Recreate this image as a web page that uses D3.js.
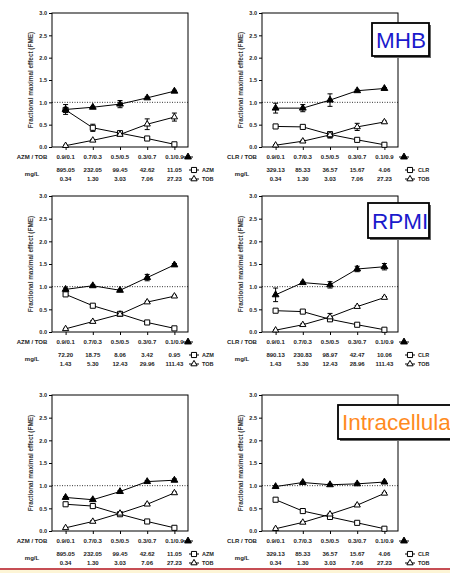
<!DOCTYPE html>
<html>
<head>
<meta charset="utf-8">
<script src="https://cdn.jsdelivr.net/npm/d3@7"></script>
<style>
  body { margin: 0; background: #fff; }
  svg { display: block; font-family: "Liberation Sans", Arial, sans-serif; }
</style>
</head>
<body>
<script>
// ratio labels shared by all six panels
const ratios = ["0.9/0.1", "0.7/0.3", "0.5/0.5", "0.3/0.7", "0.1/0.9"];
const yTicks = [0, 0.5, 1, 1.5, 2, 2.5, 3];

// concentrations (mg/L)
const azmMhbConc = ["895.05", "232.05", "99.45", "42.62", "11.05"];
const clrMhbConc = ["329.13", "85.33", "36.57", "15.67", "4.06"];
const tobMhbConc = ["0.34", "1.30", "3.03", "7.06", "27.23"];
const azmRpmiConc = ["72.20", "18.75", "8.06", "3.42", "0.95"];
const clrRpmiConc = ["890.13", "230.83", "98.97", "42.47", "10.06"];
const tobRpmiConc = ["1.43", "5.30", "12.43", "29.96", "111.43"];
const tobRpmiConc2 = ["1.43", "5.30", "12.43", "28.96", "111.43"];

// FME values, with error half-widths
const azmMhbCombo = [0.84, 0.89, 0.96, 1.10, 1.25];
const azmMhbComboErr = [0.11, 0.02, 0.08, 0.02, 0.02];
const azmMhbAlone = [0.83, 0.43, 0.31, 0.19, 0.06];
const azmMhbAloneErr = [0.03, 0.08, 0.02, 0.01, 0.01];
const azmMhbTob = [0.03, 0.15, 0.28, 0.51, 0.67];
const azmMhbTobErr = [0.01, 0.02, 0.03, 0.12, 0.09];

const clrMhbCombo = [0.87, 0.87, 1.05, 1.26, 1.31];
const clrMhbComboErr = [0.11, 0.08, 0.14, 0.02, 0.02];
const clrMhbAlone = [0.46, 0.45, 0.28, 0.16, 0.05];
const clrMhbAloneErr = [0.02, 0.02, 0.06, 0.01, 0.01];
const clrMhbTob = [0.04, 0.13, 0.27, 0.45, 0.56];
const clrMhbTobErr = [0.01, 0.02, 0.07, 0.08, 0.02];

const azmRpmiCombo = [0.94, 1.02, 0.92, 1.20, 1.48];
const azmRpmiComboErr = [0.03, 0.02, 0.02, 0.07, 0.03];
const azmRpmiAlone = [0.83, 0.58, 0.40, 0.21, 0.08];
const azmRpmiAloneErr = [0.02, 0.02, 0.02, 0.02, 0.02];
const azmRpmiTob = [0.07, 0.23, 0.39, 0.66, 0.79];
const azmRpmiTobErr = [0.01, 0.02, 0.02, 0.02, 0.02];

const clrRpmiCombo = [0.82, 1.09, 1.04, 1.39, 1.44];
const clrRpmiComboErr = [0.15, 0.02, 0.07, 0.06, 0.07];
const clrRpmiAlone = [0.47, 0.45, 0.28, 0.16, 0.05];
const clrRpmiAloneErr = [0.02, 0.02, 0.02, 0.02, 0.02];
const clrRpmiTob = [0.04, 0.16, 0.33, 0.56, 0.76];
const clrRpmiTobErr = [0.01, 0.02, 0.08, 0.02, 0.02];

const azmIcCombo = [0.74, 0.69, 0.87, 1.09, 1.12];
const azmIcComboErr = [0.02, 0.02, 0.02, 0.02, 0.03];
const azmIcAlone = [0.59, 0.55, 0.37, 0.21, 0.07];
const azmIcAloneErr = [0.02, 0.02, 0.02, 0.02, 0.02];
const azmIcTob = [0.07, 0.21, 0.39, 0.59, 0.84];
const azmIcTobErr = [0.01, 0.02, 0.02, 0.02, 0.02];

const clrIcCombo = [0.98, 1.07, 1.02, 1.04, 1.08];
const clrIcComboErr = [0.02, 0.02, 0.02, 0.02, 0.02];
const clrIcAlone = [0.69, 0.44, 0.31, 0.18, 0.05];
const clrIcAloneErr = [0.02, 0.02, 0.02, 0.02, 0.02];
const clrIcTob = [0.05, 0.19, 0.37, 0.57, 0.83];
const clrIcTobErr = [0.01, 0.02, 0.02, 0.02, 0.02];

// panel layout
const width = 450, height = 573;
const cols = [{ x0: 52, x1: 188, lab: 32, leg: -2 }, { x0: 262, x1: 398, lab: 242, leg: 4 }];
const rows = [{ y0: 13, y1: 147 }, { y0: 196, y1: 332 }, { y0: 395, y1: 531 }];

const panels = [
  { r: 0, c: 0, drug: "AZM", combo: azmMhbCombo, comboErr: azmMhbComboErr, alone: azmMhbAlone, aloneErr: azmMhbAloneErr, tob: azmMhbTob, tobErr: azmMhbTobErr, concA: azmMhbConc, concB: tobMhbConc },
  { r: 0, c: 1, drug: "CLR", combo: clrMhbCombo, comboErr: clrMhbComboErr, alone: clrMhbAlone, aloneErr: clrMhbAloneErr, tob: clrMhbTob, tobErr: clrMhbTobErr, concA: clrMhbConc, concB: tobMhbConc },
  { r: 1, c: 0, drug: "AZM", combo: azmRpmiCombo, comboErr: azmRpmiComboErr, alone: azmRpmiAlone, aloneErr: azmRpmiAloneErr, tob: azmRpmiTob, tobErr: azmRpmiTobErr, concA: azmRpmiConc, concB: tobRpmiConc },
  { r: 1, c: 1, drug: "CLR", combo: clrRpmiCombo, comboErr: clrRpmiComboErr, alone: clrRpmiAlone, aloneErr: clrRpmiAloneErr, tob: clrRpmiTob, tobErr: clrRpmiTobErr, concA: clrRpmiConc, concB: tobRpmiConc2 },
  { r: 2, c: 0, drug: "AZM", combo: azmIcCombo, comboErr: azmIcComboErr, alone: azmIcAlone, aloneErr: azmIcAloneErr, tob: azmIcTob, tobErr: azmIcTobErr, concA: azmMhbConc, concB: tobMhbConc },
  { r: 2, c: 1, drug: "CLR", combo: clrIcCombo, comboErr: clrIcComboErr, alone: clrIcAlone, aloneErr: clrIcAloneErr, tob: clrIcTob, tobErr: clrIcTobErr, concA: clrMhbConc, concB: tobMhbConc }
];

const svg = d3.select("body").append("svg")
  .attr("width", width)
  .attr("height", height);

svg.append("rect").attr("width", width).attr("height", height).attr("fill", "#fff");

const triFilled = d3.symbol().type(d3.symbolTriangle).size(20);
const triOpen = d3.symbol().type(d3.symbolTriangle).size(17);
const square = d3.symbol().type(d3.symbolSquare).size(26);

function drawPanel(p) {
  const col = cols[p.c], row = rows[p.r];
  const x = d3.scalePoint().domain(ratios).range([col.x0, col.x1]).padding(0.5);
  const y = d3.scaleLinear().domain([0, 3]).range([row.y1, row.y0]);
  const g = svg.append("g");

  // frame
  g.append("rect")
    .attr("x", col.x0).attr("y", row.y0)
    .attr("width", col.x1 - col.x0).attr("height", row.y1 - row.y0)
    .attr("fill", "none").attr("stroke", "#000").attr("stroke-width", 1);

  // y axis
  const yAxis = g.append("g")
    .attr("transform", `translate(${col.x0},0)`)
    .call(d3.axisLeft(y).tickValues(yTicks).tickFormat(d3.format(".1f")).tickSize(3).tickPadding(2));
  yAxis.select(".domain").remove();
  yAxis.selectAll("text").attr("font-size", 5.5).attr("font-weight", "bold").attr("fill", "#222")
    .attr("font-family", "Liberation Sans, Arial, sans-serif");

  // x axis ticks only
  const xAxis = g.append("g")
    .attr("transform", `translate(0,${row.y1})`)
    .call(d3.axisBottom(x).tickSize(3).tickFormat(""));
  xAxis.select(".domain").remove();

  // y title
  g.append("text")
    .attr("transform", `translate(${col.x0 - 19},${(row.y0 + row.y1) / 2}) rotate(-90)`)
    .attr("text-anchor", "middle")
    .attr("font-size", 6.4).attr("font-weight", "bold").attr("fill", "#333")
    .text("Fractional maximal effect (FME)");

  // reference line at 1.0
  g.append("line")
    .attr("x1", col.x0).attr("x2", col.x1)
    .attr("y1", y(1)).attr("y2", y(1))
    .attr("stroke", "#000").attr("stroke-width", 0.8).attr("stroke-dasharray", "1,1.5");

  const series = [
    { v: p.alone, e: p.aloneErr, sym: square, fill: "#fff" },
    { v: p.tob, e: p.tobErr, sym: triOpen, fill: "#fff" },
    { v: p.combo, e: p.comboErr, sym: triFilled, fill: "#000" }
  ];
  const line = d3.line().x((d, i) => x(ratios[i])).y(d => y(d));

  series.forEach(s => {
    g.append("path").datum(s.v).attr("d", line)
      .attr("fill", "none").attr("stroke", "#000").attr("stroke-width", 1);
  });
  series.forEach(s => {
    s.v.forEach((v, i) => {
      const cx = x(ratios[i]), hi = y(v + s.e[i]), lo = y(v - s.e[i]);
      g.append("line").attr("x1", cx).attr("x2", cx).attr("y1", hi).attr("y2", lo)
        .attr("stroke", "#000").attr("stroke-width", 1);
      [hi, lo].forEach(yy => g.append("line")
        .attr("x1", cx - 2.5).attr("x2", cx + 2.5).attr("y1", yy).attr("y2", yy)
        .attr("stroke", "#000").attr("stroke-width", 1));
    });
  });
  series.forEach(s => {
    g.selectAll(null).data(s.v).join("path")
      .attr("d", s.sym)
      .attr("transform", (d, i) => `translate(${x(ratios[i])},${y(d)})`)
      .attr("fill", s.fill).attr("stroke", "#000").attr("stroke-width", 1);
  });

  // labels under the axis
  const txt = (tx, ty, s, anchor) => g.append("text")
    .attr("x", tx).attr("y", ty).attr("dy", "0.35em")
    .attr("text-anchor", anchor || "middle")
    .attr("font-size", 6).attr("font-weight", "bold").attr("fill", "#222")
    .text(s);

  const yr = row.y1 + 10, ya = row.y1 + 23, yb = row.y1 + 32;
  txt(col.lab, yr, p.drug + " / TOB");
  txt(col.lab, (ya + yb) / 2 - 1, "mg/L");
  ratios.forEach((r, i) => {
    txt(x(r), yr, r);
    txt(x(r), ya, p.concA[i]);
    txt(x(r), yb, p.concB[i]);
  });

  // legend glyphs
  const lx = col.x1 + col.leg;
  const glyph = (cx, cy, sym, fill) => {
    g.append("line").attr("x1", cx - 5).attr("x2", cx + 5).attr("y1", cy).attr("y2", cy)
      .attr("stroke", "#000").attr("stroke-width", 1);
    g.append("path").attr("d", sym).attr("transform", `translate(${cx},${cy})`)
      .attr("fill", fill).attr("stroke", "#000").attr("stroke-width", 1);
  };
  glyph(lx + 2, yr, triFilled, "#000");
  glyph(lx + 8, ya, square, "#fff");
  glyph(lx + 8, yb, triOpen, "#fff");
  txt(lx + 16, ya, p.drug, "start").attr("font-size", 5.5);
  txt(lx + 16, yb, "TOB", "start").attr("font-size", 5.5);
}

panels.forEach(drawPanel);

// medium labels
const boxes = [
  { x: 372, y: 23, w: 57, h: 33, label: "MHB", color: "#1a1acc" },
  { x: 368, y: 203, w: 61, h: 35, label: "RPMI", color: "#1a1acc" },
  { x: 338, y: 405, w: 130, h: 34, label: "Intracellular", color: "#ff8a1e" }
];
boxes.forEach(b => {
  svg.append("rect").attr("x", b.x + 2).attr("y", b.y + 2).attr("width", b.w).attr("height", b.h)
    .attr("fill", "#666");
  svg.append("rect").attr("x", b.x).attr("y", b.y).attr("width", b.w).attr("height", b.h)
    .attr("fill", "#fff").attr("stroke", "#000").attr("stroke-width", 1.8);
  svg.append("text").attr("x", b.x + 4).attr("y", b.y + b.h / 2).attr("dy", "0.36em")
    .attr("font-size", 22.5).attr("fill", b.color)
    .attr("font-family", "Liberation Sans, Arial, sans-serif")
    .text(b.label);
});

// slide footer rule
svg.append("rect").attr("x", 0).attr("y", 570).attr("width", width).attr("height", 3).attr("fill", "#fdf5d6");
svg.append("line").attr("x1", 0).attr("x2", width).attr("y1", 569).attr("y2", 569)
  .attr("stroke", "#b3131b").attr("stroke-width", 1.5);
</script>
</body>
</html>
